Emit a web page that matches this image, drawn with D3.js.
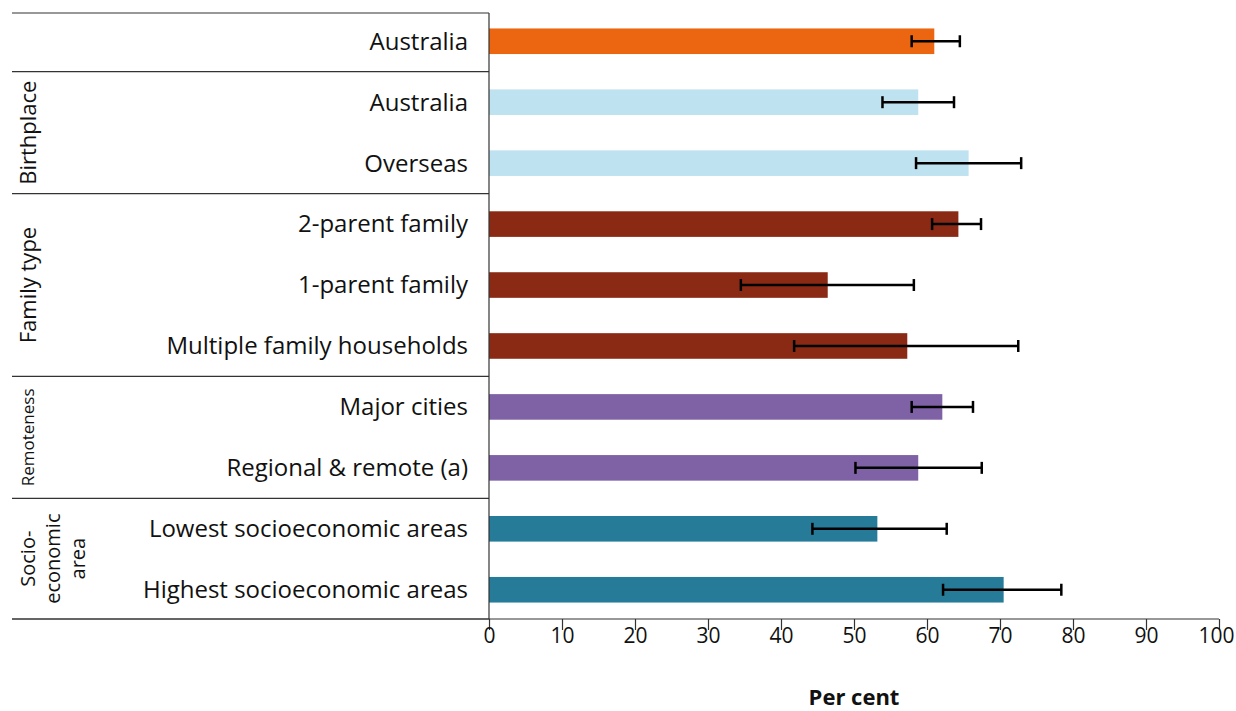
<!DOCTYPE html>
<html>
<head>
<meta charset="utf-8">
<script src="https://cdn.jsdelivr.net/npm/d3@7"></script>
<style>
  body { margin: 0; background: #fff; }
  svg { font-family: "Open Sans", sans-serif; }
</style>
</head>
<body>
<div id="chart"></div>
<script>
// data
var categories = ["Australia", "Australia ", "Overseas", "2-parent family", "1-parent family",
  "Multiple family households", "Major cities", "Regional & remote (a)",
  "Lowest socioeconomic areas", "Highest socioeconomic areas"];
var groupOf = ["total", "birth", "birth", "family", "family", "family", "remote", "remote", "ses", "ses"];
var values = [61.0, 58.8, 65.7, 64.3, 46.4, 57.3, 62.1, 58.8, 53.2, 70.5];
var lower = [57.9, 53.9, 58.5, 60.7, 34.5, 41.8, 57.9, 50.2, 44.3, 62.2];
var upper = [64.5, 63.7, 72.9, 67.4, 58.2, 72.5, 66.3, 67.5, 62.7, 78.4];

var groupIds = ["total", "birth", "family", "remote", "ses"];
var groupLabels = [[], ["Birthplace"], ["Family type"], ["Remoteness"], ["Socio-", "economic", "area"]];
var groupColors = ["#ec6611", "#bee2ef", "#8b2a14", "#7f62a6", "#267b99"];
var xTicks = [0, 10, 20, 30, 40, 50, 60, 70, 80, 90, 100];

var width = 1236, height = 711;
var margin = {top: 12, right: 17, bottom: 92, left: 489};

var svg = d3.select("#chart").append("svg")
  .attr("width", width)
  .attr("height", height);

var x = d3.scaleLinear().domain([0, 100]).range([margin.left, width - margin.right]);
var y = d3.scaleBand().domain(categories).range([margin.top, height - margin.bottom]).paddingInner(0.58).paddingOuter(0.27);
var color = d3.scaleOrdinal().domain(groupIds).range(groupColors);

// bars
svg.selectAll("rect.bar")
  .data(categories)
  .enter()
  .append("rect")
  .attr("class", "bar")
  .attr("x", x(0))
  .attr("y", function(d) { return y(d); })
  .attr("width", function(d, i) { return x(values[i]) - x(0); })
  .attr("height", y.bandwidth())
  .attr("fill", function(d, i) { return color(groupOf[i]); });

// error bars
var err = svg.append("g").attr("stroke", "#000").attr("stroke-width", 2.5);
categories.forEach(function(c, i) {
  var cy = y(c) + y.bandwidth() / 2;
  err.append("line").attr("x1", x(lower[i])).attr("x2", x(upper[i])).attr("y1", cy).attr("y2", cy);
  err.append("line").attr("x1", x(lower[i])).attr("x2", x(lower[i])).attr("y1", cy - 6).attr("y2", cy + 6);
  err.append("line").attr("x1", x(upper[i])).attr("x2", x(upper[i])).attr("y1", cy - 6).attr("y2", cy + 6);
});

// category labels
svg.selectAll("text.cat")
  .data(categories)
  .enter()
  .append("text")
  .attr("class", "cat")
  .attr("x", margin.left - 21)
  .attr("y", function(d) { return y(d) + y.bandwidth() / 2; })
  .attr("dy", "0.35em")
  .attr("text-anchor", "end")
  .attr("font-size", "24px")
  .attr("fill", "#111")
  .text(function(d) { return d.trim(); });

// group separators and rotated group labels
var lineCol = "#333";
var bottom = height - margin.bottom;
svg.append("line").attr("x1", 12).attr("x2", margin.left).attr("y1", 13).attr("y2", 13)
  .attr("stroke", lineCol).attr("stroke-width", 1.2);
groupIds.forEach(function(g, gi) {
  var idx = d3.range(categories.length).filter(function(i) { return groupOf[i] === g; });
  var top = y(categories[idx[0]]) - y.step() * y.paddingInner() / 2;
  var bot = y(categories[idx[idx.length - 1]]) + y.bandwidth() + y.step() * y.paddingInner() / 2;
  if (gi === 0) top = 13;
  if (gi === groupIds.length - 1) bot = bottom;
  svg.append("line").attr("x1", 12).attr("x2", margin.left).attr("y1", bot).attr("y2", bot)
    .attr("stroke", lineCol).attr("stroke-width", 1.2);
  var lines = groupLabels[gi];
  if (!lines.length) return;
  var mid = (top + bot) / 2;
  var fs = g === "remote" ? 17 : (g === "ses" ? 20 : 22);
  var t = svg.append("text")
    .attr("transform", "translate(" + 28 + "," + mid + ") rotate(-90)")
    .attr("text-anchor", "middle")
    .attr("font-size", fs + "px")
    .attr("fill", "#111");
  lines.forEach(function(l, li) {
    t.append("tspan").attr("x", 0).attr("y", li * 25).attr("dy", "0.35em").text(l);
  });
});

// vertical axis line
svg.append("line").attr("x1", x(0)).attr("x2", x(0)).attr("y1", 13).attr("y2", bottom)
  .attr("stroke", lineCol).attr("stroke-width", 1.2);

// x axis
var xAxis = svg.append("g")
  .attr("transform", "translate(0," + bottom + ")")
  .call(d3.axisBottom(x).tickValues(xTicks).tickSize(11).tickFormat(d3.format("d")));
xAxis.select(".domain").remove();
xAxis.selectAll(".tick line").attr("stroke", lineCol).attr("stroke-width", 1.2);
xAxis.selectAll(".tick text")
  .attr("y", 17)
  .attr("dy", "0.35em")
  .attr("x", function(d) { return d === 100 ? -3 : 0; })  // keep "100" inside the page edge
  .attr("font-size", "21px")
  .attr("fill", "#111")
  .attr("font-family", "Open Sans, sans-serif");
svg.append("line").attr("x1", 12).attr("x2", x(100)).attr("y1", bottom).attr("y2", bottom)
  .attr("stroke", lineCol).attr("stroke-width", 1.2);

svg.append("text")
  .attr("x", (x(0) + x(100)) / 2)
  .attr("y", 697)
  .attr("dy", "0.35em")
  .attr("text-anchor", "middle")
  .attr("font-size", "22px")
  .attr("font-weight", "bold")
  .attr("fill", "#111")
  .text("Per cent");
</script>
</body>
</html>
